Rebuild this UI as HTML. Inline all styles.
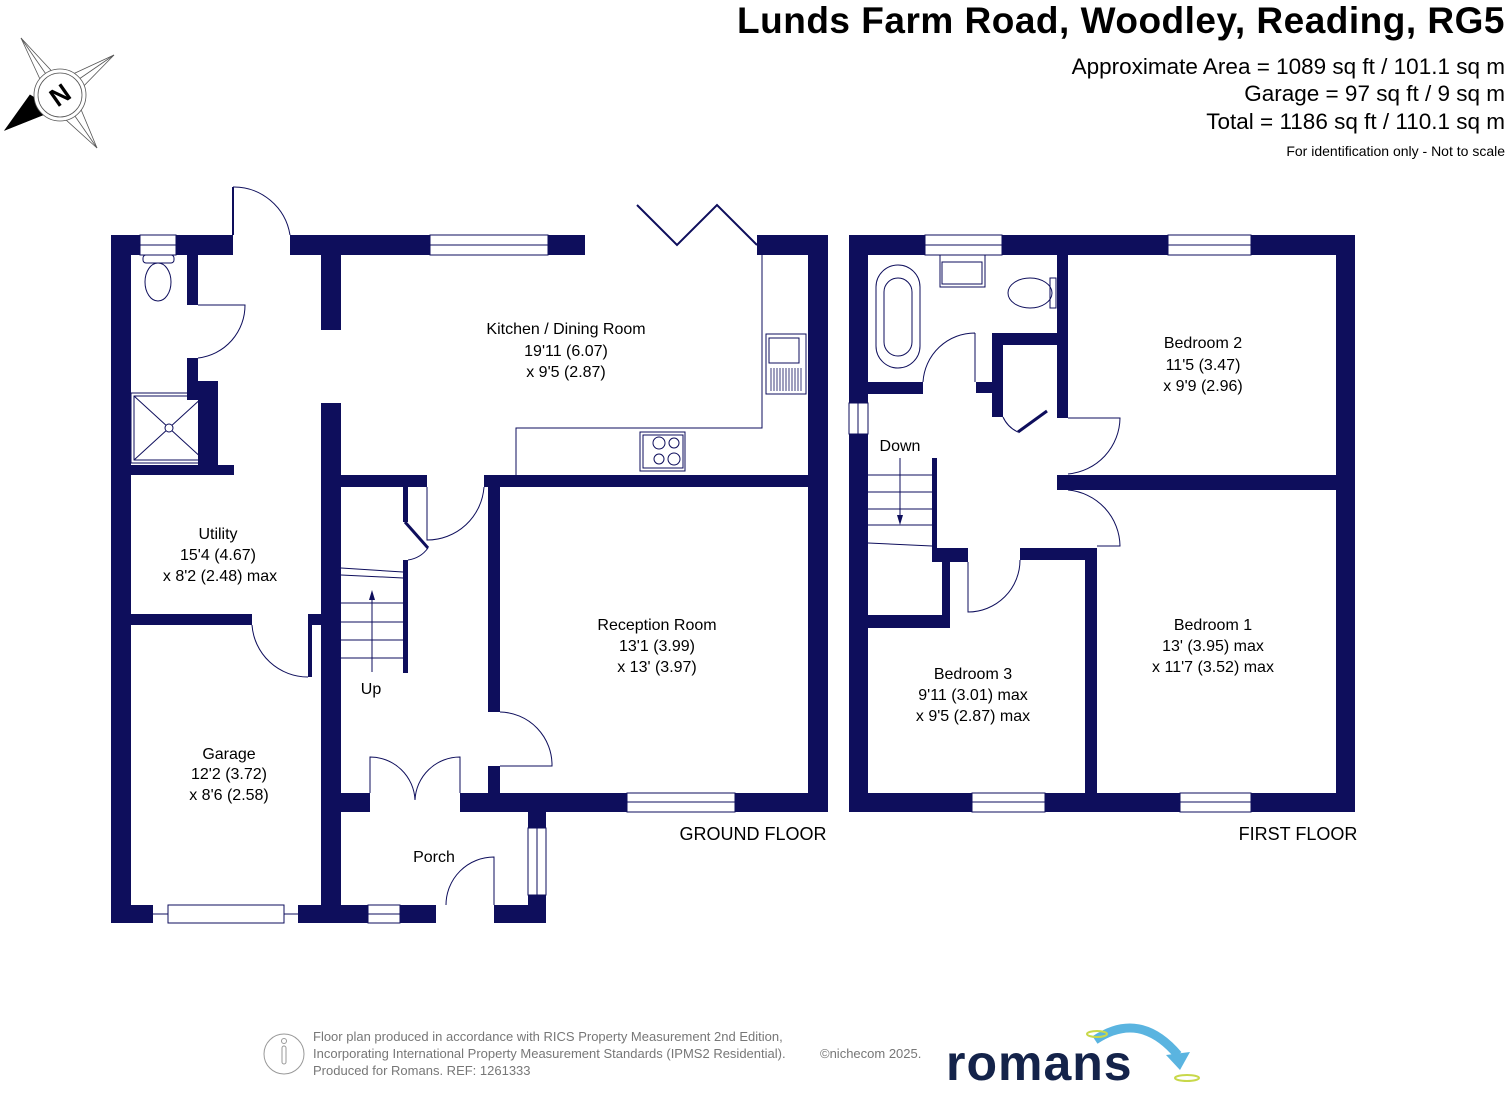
<!DOCTYPE html>
<html><head><meta charset="utf-8"><style>
html,body{margin:0;padding:0;background:#fff;}
svg{display:block;}
text{font-family:"Liberation Sans",sans-serif;}
</style></head><body>
<svg width="1510" height="1096" viewBox="0 0 1510 1096" xmlns="http://www.w3.org/2000/svg">
<rect width="1510" height="1096" fill="#fff"/>
<!-- Title -->
<text x="1505" y="33" font-size="37" font-weight="bold" text-anchor="end" fill="#000" letter-spacing="0.5">Lunds Farm Road, Woodley, Reading, RG5</text>
<text x="1505" y="74" font-size="22.5" text-anchor="end" fill="#000">Approximate Area = 1089 sq ft / 101.1 sq m</text>
<text x="1505" y="101" font-size="22.5" text-anchor="end" fill="#000">Garage = 97 sq ft / 9 sq m</text>
<text x="1505" y="129" font-size="22.5" text-anchor="end" fill="#000">Total = 1186 sq ft / 110.1 sq m</text>
<text x="1505" y="156" font-size="14" text-anchor="end" fill="#000">For identification only - Not to scale</text>

<!-- Compass -->
<g stroke="#555" stroke-width="0.8" fill="#fff">
<polygon points="21,38 60,80 114,55 75,95 97,148 55,110 5,130 45,90"/>
<line x1="21" y1="38" x2="97" y2="148"/><line x1="114" y1="55" x2="5" y2="130"/>
<polygon points="5,130 30,95 55,110" fill="#000" stroke="#000"/>
<circle cx="60" cy="95" r="26"/><circle cx="60" cy="95" r="22"/>
</g>
<text x="60" y="104" font-size="26" font-weight="bold" text-anchor="middle" transform="rotate(-35 60 95)" fill="#000">N</text>

<g fill="#0e0e5c">
<!-- GROUND FLOOR -->
<rect x="111" y="235" width="20" height="688"/>
<rect x="111" y="235" width="122" height="20"/>
<rect x="290" y="235" width="295" height="20"/>
<rect x="757" y="235" width="71" height="20"/>
<rect x="808" y="235" width="20" height="577"/>
<rect x="321" y="255" width="20" height="75"/>
<rect x="321" y="403" width="20" height="520"/>
<rect x="187" y="255" width="11" height="50"/>
<rect x="187" y="358" width="11" height="42"/>
<rect x="198" y="381" width="20" height="84"/>
<rect x="131" y="465" width="103" height="10"/>
<rect x="341" y="475" width="86" height="12"/>
<rect x="484" y="475" width="344" height="12"/>
<rect x="488" y="487" width="12" height="225"/>
<rect x="488" y="766" width="12" height="27"/>
<rect x="403" y="487" width="5" height="35"/>
<rect x="403" y="560" width="5" height="113"/>
<rect x="131" y="614" width="121" height="11"/>
<rect x="308" y="614" width="13" height="11"/>
<rect x="308" y="625" width="4" height="52"/>
<rect x="341" y="793" width="29" height="19"/>
<rect x="460" y="793" width="368" height="19"/>
<rect x="528" y="812" width="18" height="111"/>
<rect x="341" y="905" width="95" height="18"/>
<rect x="494" y="905" width="52" height="18"/>
<rect x="111" y="905" width="42" height="18"/>
<rect x="298" y="905" width="43" height="18"/>
<!-- FIRST FLOOR -->
<rect x="849" y="235" width="506" height="20"/>
<rect x="849" y="235" width="19" height="577"/>
<rect x="1336" y="235" width="19" height="577"/>
<rect x="849" y="793" width="506" height="19"/>
<rect x="1057" y="255" width="11" height="163"/>
<rect x="868" y="382" width="55" height="12"/>
<rect x="992" y="333" width="65" height="12"/>
<rect x="992" y="333" width="11" height="84"/>
<rect x="976" y="382" width="16" height="11"/>
<rect x="1057" y="475" width="279" height="15"/>
<rect x="932" y="458" width="5" height="90"/>
<rect x="932" y="548" width="36" height="14"/>
<rect x="1020" y="548" width="77" height="12"/>
<rect x="942" y="548" width="8" height="80"/>
<rect x="868" y="615" width="82" height="13"/>
<rect x="1085" y="548" width="12" height="245"/>
</g>

<!-- windows (white with lines) -->
<g fill="#fff" stroke="#0e0e5c" stroke-width="1">
<rect x="140" y="235" width="36" height="20"/><line x1="140" y1="245" x2="176" y2="245"/>
<rect x="430" y="235" width="118" height="20"/><line x1="430" y1="245" x2="548" y2="245"/>
<rect x="627" y="793" width="108" height="19"/><line x1="627" y1="802" x2="735" y2="802"/>
<rect x="368" y="905" width="32" height="18"/><line x1="368" y1="914" x2="400" y2="914"/>
<rect x="528" y="828" width="18" height="67"/><line x1="537" y1="828" x2="537" y2="895"/>
<rect x="168" y="905" width="116" height="18"/>
<line x1="153" y1="914" x2="168" y2="914"/><line x1="284" y1="914" x2="298" y2="914"/>
<rect x="925" y="235" width="77" height="20"/><line x1="925" y1="245" x2="1002" y2="245"/>
<rect x="1168" y="235" width="83" height="20"/><line x1="1168" y1="245" x2="1251" y2="245"/>
<rect x="972" y="793" width="73" height="19"/><line x1="972" y1="802" x2="1045" y2="802"/>
<rect x="1180" y="793" width="71" height="19"/><line x1="1180" y1="802" x2="1251" y2="802"/>
<rect x="849" y="403" width="19" height="31"/><line x1="858" y1="403" x2="858" y2="434"/>
</g>

<!-- thin lines, doors, fixtures -->
<g fill="none" stroke="#0e0e5c" stroke-width="1">
<line x1="233" y1="187" x2="233" y2="235" stroke-width="2"/>
<path d="M233,187 A57,57 0 0 1 290,235"/>
<path d="M198,305 H245 A53,53 0 0 1 198,358"/>
<polyline points="637,205 677,245 717,205 757,245" stroke-width="2"/>
<polyline points="516,475 516,428 762,428 762,255"/>
<path d="M427,487 V540 A57,57 0 0 0 484,487"/>
<line x1="405" y1="522" x2="428" y2="548" stroke-width="3"/>
<path d="M408,560 A30,30 0 0 0 428,548"/>
<line x1="341" y1="568" x2="403" y2="572"/><line x1="341" y1="575" x2="403" y2="578"/>
<line x1="341" y1="603" x2="403" y2="603"/><line x1="341" y1="622" x2="403" y2="622"/><line x1="341" y1="640" x2="403" y2="640"/><line x1="341" y1="658" x2="403" y2="658"/>
<line x1="372" y1="600" x2="372" y2="672"/>
<path d="M252,625 A56,56 0 0 0 308,677"/>
<path d="M500,712 A53,53 0 0 1 552,766 H500"/>
<path d="M370,793 V757 A45,45 0 0 1 415,800 A45,45 0 0 1 460,757 V793"/>
<path d="M494,905 V857 A48,48 0 0 0 446,905"/>
<rect x="131" y="393" width="76" height="70"/><rect x="134" y="396" width="70" height="64"/>
<line x1="134" y1="396" x2="204" y2="460"/><line x1="204" y1="396" x2="134" y2="460"/>
<circle cx="169" cy="428" r="4" fill="#fff"/>
<rect x="143" y="255" width="31" height="8" rx="3"/><ellipse cx="158" cy="282" rx="13" ry="19"/>
<rect x="766" y="334" width="40" height="60"/><rect x="769" y="338" width="30" height="25"/>
<g stroke-width="0.8"><line x1="771" y1="368" x2="771" y2="391"/><line x1="774" y1="368" x2="774" y2="391"/><line x1="777" y1="368" x2="777" y2="391"/><line x1="780" y1="368" x2="780" y2="391"/><line x1="783" y1="368" x2="783" y2="391"/><line x1="786" y1="368" x2="786" y2="391"/><line x1="789" y1="368" x2="789" y2="391"/><line x1="792" y1="368" x2="792" y2="391"/><line x1="795" y1="368" x2="795" y2="391"/><line x1="798" y1="368" x2="798" y2="391"/><line x1="801" y1="368" x2="801" y2="391"/></g>
<rect x="640" y="432" width="45" height="39"/><rect x="643" y="435" width="40" height="33"/>
<circle cx="659" cy="443" r="6"/><circle cx="674" cy="443" r="5"/><circle cx="659" cy="459" r="5"/><circle cx="674" cy="459" r="6"/>

<rect x="876" y="265" width="44" height="103" rx="22"/><rect x="884" y="278" width="28" height="78" rx="14"/>
<rect x="940" y="255" width="45" height="32"/><rect x="942" y="262" width="40" height="22"/>
<ellipse cx="1030" cy="293" rx="22" ry="15"/><rect x="1050" y="278" width="6" height="30"/>
<path d="M975,333 V382 M923,382 A52,52 0 0 1 975,333"/>
<line x1="1018" y1="432" x2="1047" y2="411" stroke-width="3"/>
<path d="M1003,417 A30,30 0 0 0 1018,432"/>
<path d="M1068,418 H1120 A57,57 0 0 1 1068,474"/>
<path d="M1068,490 A57,57 0 0 1 1120,546 H1097"/>
<path d="M968,562 V612 A52,52 0 0 0 1020,560"/>
<line x1="868" y1="475" x2="932" y2="475"/><line x1="868" y1="492" x2="932" y2="492"/><line x1="868" y1="509" x2="932" y2="509"/><line x1="868" y1="525" x2="932" y2="525"/>
<line x1="868" y1="543" x2="932" y2="546"/>
<line x1="900" y1="458" x2="900" y2="520"/>
</g>
<polygon points="369,600 375,600 372,590" fill="#0e0e5c"/>
<polygon points="897,515 903,515 900,525" fill="#0e0e5c"/>

<g font-size="16" fill="#000" text-anchor="middle">
<text x="566" y="334">Kitchen / Dining Room</text><text x="566" y="356">19'11 (6.07)</text><text x="566" y="377">x 9'5 (2.87)</text>
<text x="218" y="539">Utility</text><text x="218" y="560">15'4 (4.67)</text><text x="220" y="581">x 8'2 (2.48) max</text>
<text x="657" y="630">Reception Room</text><text x="657" y="651">13'1 (3.99)</text><text x="657" y="672">x 13' (3.97)</text>
<text x="229" y="759">Garage</text><text x="229" y="779">12'2 (3.72)</text><text x="229" y="800">x 8'6 (2.58)</text>
<text x="371" y="694">Up</text>
<text x="434" y="862">Porch</text>
<text x="753" y="840" font-size="18">GROUND FLOOR</text>
<text x="1203" y="348">Bedroom 2</text><text x="1203" y="370">11'5 (3.47)</text><text x="1203" y="391">x 9'9 (2.96)</text>
<text x="900" y="451">Down</text>
<text x="1213" y="630">Bedroom 1</text><text x="1213" y="651">13' (3.95) max</text><text x="1213" y="672">x 11'7 (3.52) max</text>
<text x="973" y="679">Bedroom 3</text><text x="973" y="700">9'11 (3.01) max</text><text x="973" y="721">x 9'5 (2.87) max</text>
<text x="1298" y="840" font-size="18">FIRST FLOOR</text>
</g>

<circle cx="284" cy="1054" r="20" fill="none" stroke="#999" stroke-width="1"/>
<rect x="282" y="1046" width="4" height="18" rx="2" fill="none" stroke="#999"/><circle cx="284" cy="1041" r="2.5" fill="none" stroke="#999"/>
<g font-size="13" fill="#777">
<text x="313" y="1041">Floor plan produced in accordance with RICS Property Measurement 2nd Edition,</text>
<text x="313" y="1058">Incorporating International Property Measurement Standards (IPMS2 Residential).</text>
<text x="313" y="1075">Produced for Romans.   REF: 1261333</text>
<text x="820" y="1058">©nichecom 2025.</text>
</g>
<text x="946" y="1080" font-size="50" font-weight="bold" fill="#14234a" letter-spacing="1">romans</text>
<path d="M1095,1040 Q1140,1010 1178,1055" fill="none" stroke="#5ab4e0" stroke-width="9"/>
<polygon points="1166,1055 1190,1052 1180,1070" fill="#5ab4e0"/>
<ellipse cx="1187" cy="1078" rx="12" ry="3" fill="none" stroke="#c8d84a" stroke-width="2"/>
<ellipse cx="1097" cy="1034" rx="10" ry="3" fill="none" stroke="#c8d84a" stroke-width="2"/>
</svg>
</body></html>
